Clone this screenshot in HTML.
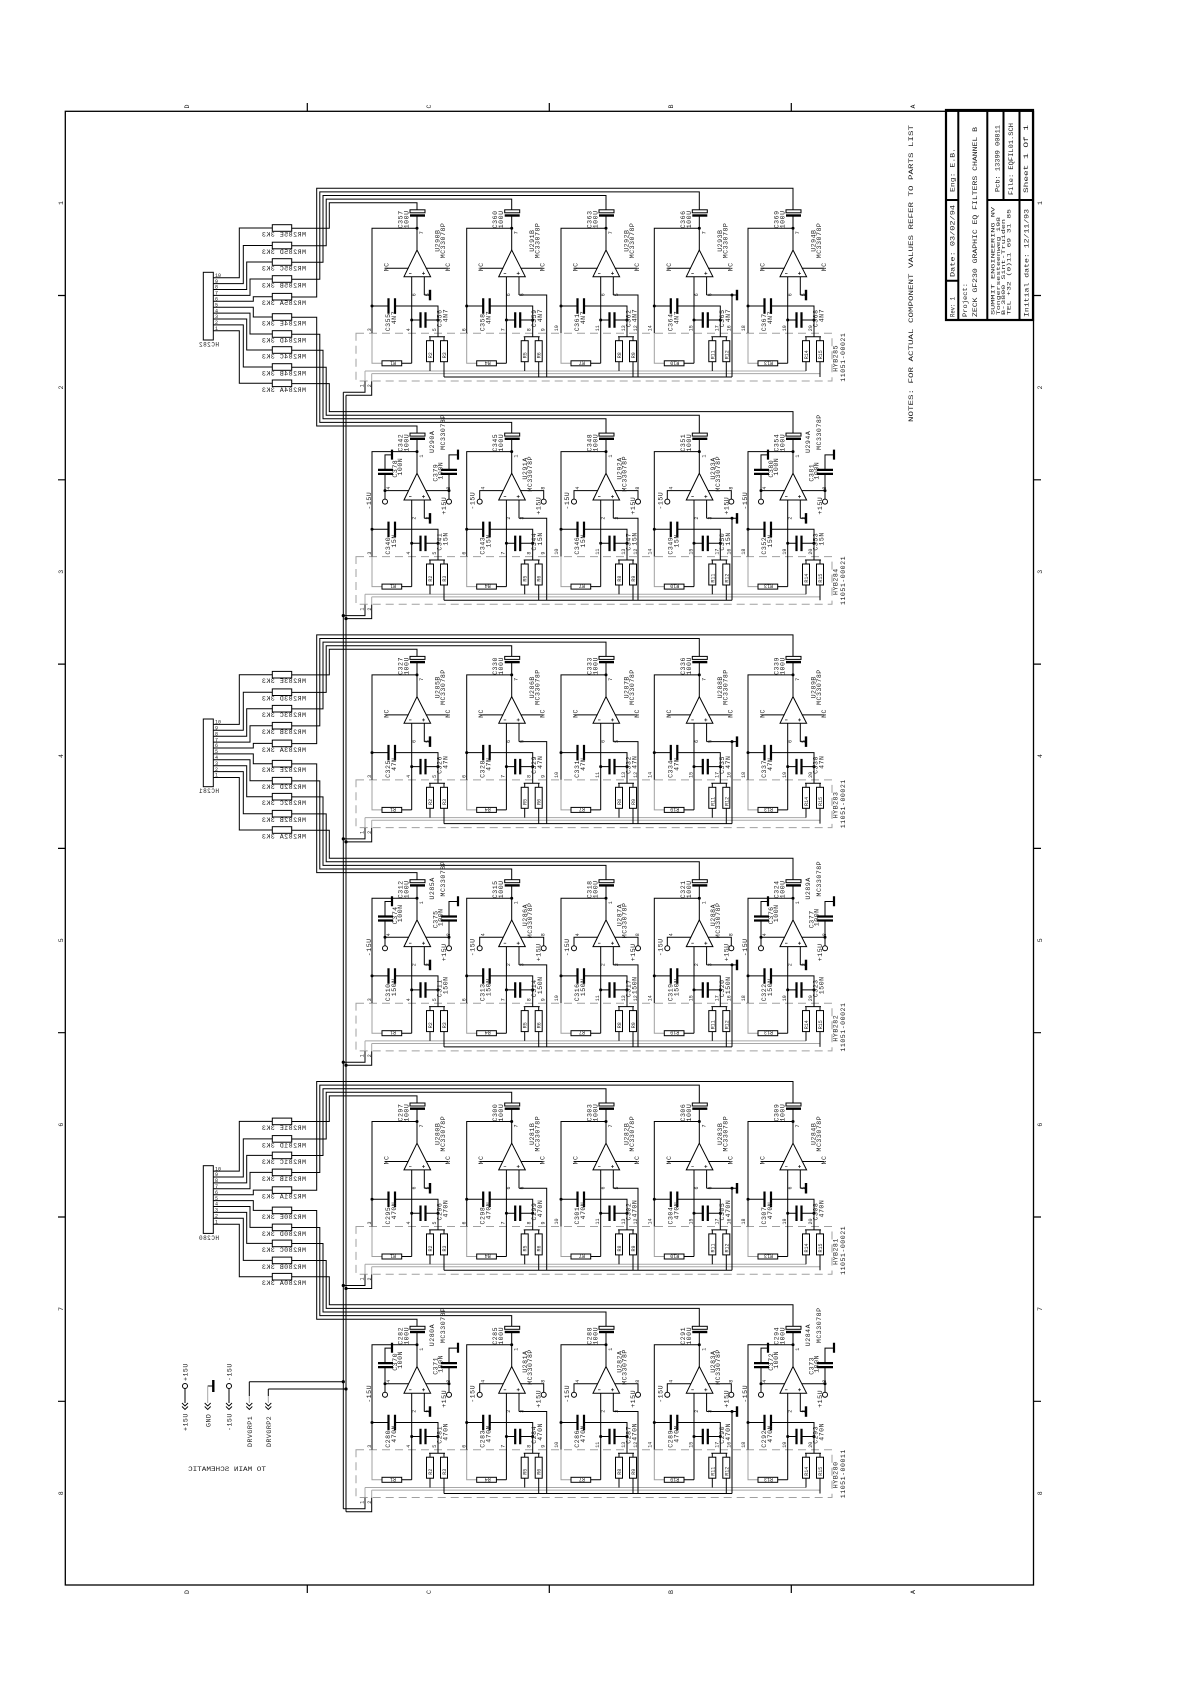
<!DOCTYPE html>
<html><head><meta charset="utf-8"><style>
html,body{margin:0;padding:0;background:#fff}
svg{display:block}
text{font-family:"Liberation Mono","DejaVu Sans Mono",monospace;fill:#1c1c1c;stroke:none;font-size:6.6px;letter-spacing:0.5px}
.s{font-size:5px;letter-spacing:0}
.s text{font-size:5px;letter-spacing:0}
.tb text{letter-spacing:0}
.d{fill:#000;stroke:none}
</style></head><body>
<svg width="1192" height="1685" viewBox="0 0 1192 1685" xmlns="http://www.w3.org/2000/svg">
<rect width="1192" height="1685" fill="#fff"/>
<defs>
<g id="st">
<path d="M0,-12.5V0H-45V105M0,0V21.7M-5.3,48.4V135M7.3,48.4V66.7M-45,77.7H-28.5M-22,77.7H21V108.4M-5.3,91.7H3.5M8.5,91.7H21M12,108.4H28M13,108.4V112.4M27,108.4V112.4M13,133.4V142.7M27,133.4V148.7M-15.3,135H-5.3"/>
<path d="M-45,105V135H-35" stroke="#a0a0a0"/>
<path d="M-13,48.4L0,21.7L13.6,48.4Z" fill="#fff"/>
<path d="M-28.5,70V85.5M-22,70V85.5M3.5,84V99.5M8.5,84V99.5" stroke-width="2.2"/>
<rect x="-7" y="-18.5" width="15" height="3" fill="#fff"/>
<path d="M-7,-12.8H8" stroke-width="2.4"/>
<rect x="9.5" y="112.4" width="7" height="21" fill="#fff"/>
<rect x="23.5" y="112.4" width="7" height="21" fill="#fff"/>
<rect x="-35" y="132.5" width="19.7" height="5" fill="#fff"/>
<circle class="d" cx="0" cy="0" r="1.5"/><circle class="d" cx="-45" cy="77.7" r="1.5"/><circle class="d" cx="-5.3" cy="91.7" r="1.5"/><circle class="d" cx="21" cy="91.7" r="1.5"/>
<path d="M-8,45H-5.5M5,45H8M6.5,43.5V46.5" stroke-width="0.6"/>
</g>
<g id="p0"><path d="M7.3,66.7H13"/><path d="M13,61.5V72" stroke-width="2.4"/></g>
<g id="p1"><path d="M7.3,66.7H35V148.7"/></g>
<g id="p2"><path d="M7.3,66.7H32V148.7"/></g>
<g id="p3"><path d="M7.3,66.7H37.7M32.7,66.7V148.7"/><path d="M37.7,61.5V72" stroke-width="2.4"/><circle class="d" cx="32.7" cy="66.7" r="1.5"/></g>
<g id="nc"><path d="M-8.4,40H-32M8.8,40H31"/></g>
<g id="pw"><path d="M-8.4,39H-32V47.5M8.8,39H32V47.5"/><circle cx="-32" cy="50" r="2.5"/><circle cx="32" cy="50" r="2.5"/></g>
<g id="dc">
<path d="M-32,39V22.3M-32,18.3V3.3H-25M32,39V22.3M32,18.3V3.3H41"/>
<path d="M-39,18.3H-24M-39,22.3H-24M24,18.3H40M24,22.3H40M-25,-2V8M41,-2V8" stroke-width="2.2"/>
<circle class="d" cx="-32" cy="39" r="1.5"/><circle class="d" cx="32" cy="39" r="1.5"/>
</g>
<g id="row">
<rect x="356" y="105" width="476" height="47.7" stroke="#a0a0a0" stroke-dasharray="8 5"/>
<path d="M365,142.7H806M371.7,145.3H820M365,142.7V153M371.7,145.3V153" stroke="#a8a8a8"/>
<path d="M444,148.7H732M365,153V164H343.3M371.7,153V167H346"/>
</g>
<g id="arr">
<rect x="203.3" y="44.3" width="10" height="67.7" fill="#fff"/>
<path d="M213.3,49.7H239.3V0H272.3M213.3,55.6H243.3V17.5H272.3M213.3,61.5H246.7V34H272.3M213.3,67.4H250V51H272.3M213.3,73.3H253.3V68.7H272.3M213.3,79.2H253.3V89H272.3M213.3,85.1H250V106H272.3M213.3,91H246.7V122H272.3M213.3,96.9H243.3V139H272.3M213.3,102.8H239.3V155.3H272.3"/>
<rect x="272.3" y="-3.3" width="19.4" height="6.6" fill="#fff"/>
<rect x="272.3" y="14.2" width="19.4" height="6.6" fill="#fff"/>
<rect x="272.3" y="30.7" width="19.4" height="6.6" fill="#fff"/>
<rect x="272.3" y="47.7" width="19.4" height="6.6" fill="#fff"/>
<rect x="272.3" y="65.4" width="19.4" height="6.6" fill="#fff"/>
<rect x="272.3" y="85.7" width="19.4" height="6.6" fill="#fff"/>
<rect x="272.3" y="102.7" width="19.4" height="6.6" fill="#fff"/>
<rect x="272.3" y="118.7" width="19.4" height="6.6" fill="#fff"/>
<rect x="272.3" y="135.7" width="19.4" height="6.6" fill="#fff"/>
<rect x="272.3" y="152" width="19.4" height="6.6" fill="#fff"/>
</g>
</defs>

<g stroke="#000" fill="none" stroke-width="1">
<!-- border -->
<rect x="65.3" y="111.3" width="968.2" height="1473.7" stroke-width="1.3"/>
<path d="M307.3,111V103M549.3,111V103M791.3,111V103M307.3,1585V1593M549.3,1585V1593M791.3,1585V1593M65,295.5H58M65,479.8H58M65,664.1H58M65,848.4H58M65,1032.7H58M65,1217H58M65,1401.3H58M1034,295.5H1041M1034,479.8H1041M1034,664.1H1041M1034,848.4H1041M1034,1032.7H1041M1034,1217H1041M1034,1401.3H1041" stroke-width="1.2"/>
<!-- title block -->
<rect x="946" y="110" width="87" height="210" stroke-width="2.2"/>
<path d="M958.3,110V320M987.3,110V320M1019.5,110V320M1003.5,110V200M946,200H958.3M987.3,200H1033M946,280.7H958.3" stroke-width="2"/>

<!-- resistor arrays -->
<g transform="translate(0,228)"><use href="#arr"/>
<g transform="scale(-1,1)"><text x="-306" y="8.5">MR285E 3K3</text><text x="-306" y="26">MR285D 3K3</text><text x="-306" y="42.5">MR285C 3K3</text><text x="-306" y="59.5">MR285B 3K3</text><text x="-306" y="77.2">MR285A 3K3</text><text x="-306" y="97.5">MR284E 3K3</text><text x="-306" y="114.5">MR284D 3K3</text><text x="-306" y="130.5">MR284C 3K3</text><text x="-306" y="147.5">MR284B 3K3</text><text x="-306" y="163.8">MR284A 3K3</text><text x="-219" y="118.5" style="font-size:6px">HC282</text></g>
<g class="s"><text x="215" y="48.9">10</text><text x="215" y="54.8">9</text><text x="215" y="60.7">8</text><text x="215" y="66.6">7</text><text x="215" y="72.5">6</text><text x="215" y="78.4">5</text><text x="215" y="84.3">4</text><text x="215" y="90.2">3</text><text x="215" y="96.1">2</text><text x="215" y="102">1</text></g>
</g>
<g transform="translate(0,674.7)"><use href="#arr"/>
<g transform="scale(-1,1)"><text x="-306" y="8.5">MR283E 3K3</text><text x="-306" y="26">MR283D 3K3</text><text x="-306" y="42.5">MR283C 3K3</text><text x="-306" y="59.5">MR283B 3K3</text><text x="-306" y="77.2">MR283A 3K3</text><text x="-306" y="97.5">MR282E 3K3</text><text x="-306" y="114.5">MR282D 3K3</text><text x="-306" y="130.5">MR282C 3K3</text><text x="-306" y="147.5">MR282B 3K3</text><text x="-306" y="163.8">MR282A 3K3</text><text x="-219" y="118.5" style="font-size:6px">HC281</text></g>
<g class="s"><text x="215" y="48.9">10</text><text x="215" y="54.8">9</text><text x="215" y="60.7">8</text><text x="215" y="66.6">7</text><text x="215" y="72.5">6</text><text x="215" y="78.4">5</text><text x="215" y="84.3">4</text><text x="215" y="90.2">3</text><text x="215" y="96.1">2</text><text x="215" y="102">1</text></g>
</g>
<g transform="translate(0,1121.4)"><use href="#arr"/>
<g transform="scale(-1,1)"><text x="-306" y="8.5">MR281E 3K3</text><text x="-306" y="26">MR281D 3K3</text><text x="-306" y="42.5">MR281C 3K3</text><text x="-306" y="59.5">MR281B 3K3</text><text x="-306" y="77.2">MR281A 3K3</text><text x="-306" y="97.5">MR280E 3K3</text><text x="-306" y="114.5">MR280D 3K3</text><text x="-306" y="130.5">MR280C 3K3</text><text x="-306" y="147.5">MR280B 3K3</text><text x="-306" y="163.8">MR280A 3K3</text><text x="-219" y="118.5" style="font-size:6px">HC280</text></g>
<g class="s"><text x="215" y="48.9">10</text><text x="215" y="54.8">9</text><text x="215" y="60.7">8</text><text x="215" y="66.6">7</text><text x="215" y="72.5">6</text><text x="215" y="78.4">5</text><text x="215" y="84.3">4</text><text x="215" y="90.2">3</text><text x="215" y="96.1">2</text><text x="215" y="102">1</text></g>
</g>

<!-- DRVGRP vertical lines -->
<path d="M343.3,392.3V1508.8M346,395.3V1511.8"/>
<circle class="d" cx="343.3" cy="615.6" r="1.6"/><circle class="d" cx="346" cy="618.6" r="1.6"/>
<circle class="d" cx="343.3" cy="838.9" r="1.6"/><circle class="d" cx="346" cy="841.9" r="1.6"/>
<circle class="d" cx="343.3" cy="1062.2" r="1.6"/><circle class="d" cx="346" cy="1065.2" r="1.6"/>
<circle class="d" cx="343.3" cy="1285.5" r="1.6"/><circle class="d" cx="346" cy="1288.5" r="1.6"/>
<circle class="d" cx="343.3" cy="1381.7" r="1.6"/><circle class="d" cx="346" cy="1389" r="1.6"/>

<!-- ROW 0 -->
<g transform="translate(0,228.3)">
<use href="#row"/>
<path d="M291.7,0H329.3V-25.6H417V-18.5M291.7,17.5H326.2V-29.2H511.7V-18.5M291.7,34H323V-32.8H606V-18.5M291.7,51H319.8V-36.4H699.3V-18.5M291.7,68.7H316.7V-40H793V-18.5"/>
<g transform="translate(417,0)"><use href="#st"/><use href="#p0"/><use href="#nc"/><g transform="rotate(-90)"><text x="0" y="-14.5">C357</text><text x="0" y="-8.5">100U</text><text x="-23.5" y="22.5">U290B</text><text x="-30" y="28">MC33078P</text><text x="-43" y="-28.5">NC</text><text x="-43" y="33">NC</text><text x="-103" y="-27">C355</text><text x="-96" y="-21">4N7</text><text x="-99" y="24.5">C356</text><text x="-94" y="30.5">4N7</text><g class="s"><text x="-130" y="15">R2</text><text x="-130" y="29">R3</text><text x="-6" y="6">7</text><text x="-68" y="-1.5">6</text><text x="-68" y="12">5</text><text x="-103" y="-46">3</text><text x="-103" y="-7">4</text><text x="-103" y="19">5</text></g></g><text class="s" x="-29" y="137" transform="rotate(180 -25 135)">R1</text></g>
<g transform="translate(511.7,0)"><use href="#st"/><use href="#p1"/><use href="#nc"/><g transform="rotate(-90)"><text x="0" y="-14.5">C360</text><text x="0" y="-8.5">100U</text><text x="-23.5" y="22.5">U291B</text><text x="-30" y="28">MC33078P</text><text x="-43" y="-28.5">NC</text><text x="-43" y="33">NC</text><text x="-103" y="-27">C358</text><text x="-96" y="-21">4N7</text><text x="-99" y="24.5">C359</text><text x="-94" y="30.5">4N7</text><g class="s"><text x="-130" y="15">R5</text><text x="-130" y="29">R6</text><text x="-6" y="6">7</text><text x="-68" y="-1.5">6</text><text x="-68" y="12">5</text><text x="-103" y="-46">6</text><text x="-103" y="-7">7</text><text x="-103" y="19">8</text><text x="-103" y="33">9</text></g></g><text class="s" x="-29" y="137" transform="rotate(180 -25 135)">R4</text></g>
<g transform="translate(606,0)"><use href="#st"/><use href="#p2"/><use href="#nc"/><g transform="rotate(-90)"><text x="0" y="-14.5">C363</text><text x="0" y="-8.5">100U</text><text x="-23.5" y="22.5">U292B</text><text x="-30" y="28">MC33078P</text><text x="-43" y="-28.5">NC</text><text x="-43" y="33">NC</text><text x="-103" y="-27">C361</text><text x="-96" y="-21">4N7</text><text x="-99" y="24.5">C362</text><text x="-94" y="30.5">4N7</text><g class="s"><text x="-130" y="15">R8</text><text x="-130" y="29">R9</text><text x="-6" y="6">7</text><text x="-68" y="-1.5">6</text><text x="-68" y="12">5</text><text x="-103" y="-48">10</text><text x="-103" y="-7">11</text><text x="-103" y="19">13</text><text x="-103" y="31">12</text></g></g><text class="s" x="-29" y="137" transform="rotate(180 -25 135)">R7</text></g>
<g transform="translate(699.3,0)"><use href="#st"/><use href="#p3"/><use href="#nc"/><g transform="rotate(-90)"><text x="0" y="-14.5">C366</text><text x="0" y="-8.5">100U</text><text x="-23.5" y="22.5">U293B</text><text x="-30" y="28">MC33078P</text><text x="-43" y="-28.5">NC</text><text x="-43" y="33">NC</text><text x="-103" y="-27">C364</text><text x="-96" y="-21">4N7</text><text x="-99" y="24.5">C365</text><text x="-94" y="30.5">4N7</text><g class="s"><text x="-131" y="15">R11</text><text x="-131" y="29">R12</text><text x="-6" y="6">7</text><text x="-68" y="-1.5">6</text><text x="-68" y="12">5</text><text x="-103" y="-48">14</text><text x="-103" y="-7">15</text><text x="-103" y="19">17</text><text x="-103" y="31">16</text></g></g><text class="s" x="-30" y="137" transform="rotate(180 -25 135)">R10</text></g>
<g transform="translate(793,0)"><use href="#st"/><use href="#p0"/><use href="#nc"/><g transform="rotate(-90)"><text x="0" y="-14.5">C369</text><text x="0" y="-8.5">100U</text><text x="-23.5" y="22.5">U294B</text><text x="-30" y="28">MC33078P</text><text x="-43" y="-28.5">NC</text><text x="-43" y="33">NC</text><text x="-103" y="-27">C367</text><text x="-96" y="-21">4N7</text><text x="-99" y="24.5">C368</text><text x="-94" y="30.5">4N7</text><g class="s"><text x="-131" y="15">R14</text><text x="-131" y="29">R15</text><text x="-6" y="6">7</text><text x="-68" y="-1.5">6</text><text x="-68" y="12">5</text><text x="-103" y="-48">18</text><text x="-103" y="-7">19</text><text x="-103" y="19">20</text></g></g><text class="s" x="-30" y="137" transform="rotate(180 -25 135)">R13</text></g>
<g transform="rotate(-90)"><text x="-143.4" y="837.5">HYB285</text><text x="-153.4" y="845">11051-00021</text><g class="s"><text x="-159" y="363.5">1</text><text x="-159" y="371">2</text></g></g>
</g>

<!-- ROW 1 -->
<g transform="translate(0,451.6)">
<use href="#row"/>
<path d="M291.7,-134.3H316.7V-25.6H417V-18.5M291.7,-117.3H319.8V-29.2H511.7V-18.5M291.7,-101.3H323V-32.8H606V-18.5M291.7,-84.3H326.2V-36.4H699.3V-18.5M291.7,-68H329.3V-40H793V-18.5"/>
<g transform="translate(417,0)"><use href="#st"/><use href="#p0"/><use href="#pw"/><use href="#dc"/><g transform="rotate(-90)"><text x="0" y="-14.5">C342</text><text x="0" y="-8.5">100U</text><text x="-1.4" y="17">U290A</text><text x="1.7" y="28">MC33078P</text><text x="-26" y="-20">C378</text><text x="-24" y="-15">100N</text><text x="-30" y="20.5">C379</text><text x="-28" y="25.5">100N</text><text x="-58" y="-46">-15U</text><text x="-63" y="29">+15U</text><text x="-103" y="-27">C340</text><text x="-96" y="-21">15N</text><text x="-99" y="24.5">C341</text><text x="-94" y="30.5">15N</text><g class="s"><text x="-130" y="15">R2</text><text x="-130" y="29">R3</text><text x="-6" y="6">1</text><text x="-68" y="-1.5">2</text><text x="-68" y="12">3</text><text x="-38" y="-27">4</text><text x="-38" y="33">8</text><text x="-103" y="-46">3</text><text x="-103" y="-7">4</text><text x="-103" y="19">5</text></g></g><text class="s" x="-29" y="137" transform="rotate(180 -25 135)">R1</text></g>
<g transform="translate(511.7,0)"><use href="#st"/><use href="#p1"/><use href="#pw"/><g transform="rotate(-90)"><text x="0" y="-14.5">C345</text><text x="0" y="-8.5">100U</text><text x="-28" y="15.5">U291A</text><text x="-40" y="20.5">MC33078P</text><text x="-58" y="-37">-15U</text><text x="-63" y="29">+15U</text><text x="-103" y="-27">C343</text><text x="-96" y="-21">15N</text><text x="-99" y="24.5">C344</text><text x="-94" y="30.5">15N</text><g class="s"><text x="-130" y="15">R5</text><text x="-130" y="29">R6</text><text x="-6" y="6">1</text><text x="-68" y="-1.5">2</text><text x="-68" y="12">3</text><text x="-38" y="-27">4</text><text x="-38" y="33">8</text><text x="-103" y="-46">6</text><text x="-103" y="-7">7</text><text x="-103" y="19">8</text><text x="-103" y="33">9</text></g></g><text class="s" x="-29" y="137" transform="rotate(180 -25 135)">R4</text></g>
<g transform="translate(606,0)"><use href="#st"/><use href="#p2"/><use href="#pw"/><g transform="rotate(-90)"><text x="0" y="-14.5">C348</text><text x="0" y="-8.5">100U</text><text x="-28" y="15.5">U292A</text><text x="-40" y="20.5">MC33078P</text><text x="-58" y="-37">-15U</text><text x="-63" y="29">+15U</text><text x="-103" y="-27">C346</text><text x="-96" y="-21">15N</text><text x="-99" y="24.5">C347</text><text x="-94" y="30.5">15N</text><g class="s"><text x="-130" y="15">R8</text><text x="-130" y="29">R9</text><text x="-6" y="6">1</text><text x="-68" y="-1.5">2</text><text x="-68" y="12">3</text><text x="-38" y="-27">4</text><text x="-38" y="33">8</text><text x="-103" y="-48">10</text><text x="-103" y="-7">11</text><text x="-103" y="19">13</text><text x="-103" y="31">12</text></g></g><text class="s" x="-29" y="137" transform="rotate(180 -25 135)">R7</text></g>
<g transform="translate(699.3,0)"><use href="#st"/><use href="#p3"/><use href="#pw"/><g transform="rotate(-90)"><text x="0" y="-14.5">C351</text><text x="0" y="-8.5">100U</text><text x="-28" y="15.5">U293A</text><text x="-40" y="20.5">MC33078P</text><text x="-58" y="-37">-15U</text><text x="-63" y="29">+15U</text><text x="-103" y="-27">C349</text><text x="-96" y="-21">15N</text><text x="-99" y="24.5">C350</text><text x="-94" y="30.5">15N</text><g class="s"><text x="-131" y="15">R11</text><text x="-131" y="29">R12</text><text x="-6" y="6">1</text><text x="-68" y="-1.5">2</text><text x="-68" y="12">3</text><text x="-38" y="-27">4</text><text x="-38" y="33">8</text><text x="-103" y="-48">14</text><text x="-103" y="-7">15</text><text x="-103" y="19">17</text><text x="-103" y="31">16</text></g></g><text class="s" x="-30" y="137" transform="rotate(180 -25 135)">R10</text></g>
<g transform="translate(793,0)"><use href="#st"/><use href="#p0"/><use href="#pw"/><use href="#dc"/><g transform="rotate(-90)"><text x="0" y="-14.5">C354</text><text x="0" y="-8.5">100U</text><text x="-1.4" y="17">U294A</text><text x="1.7" y="28">MC33078P</text><text x="-26" y="-20">C380</text><text x="-24" y="-15">100N</text><text x="-30" y="20.5">C381</text><text x="-28" y="25.5">100N</text><text x="-58" y="-46">-15U</text><text x="-63" y="29">+15U</text><text x="-103" y="-27">C352</text><text x="-96" y="-21">15N</text><text x="-99" y="24.5">C353</text><text x="-94" y="30.5">15N</text><g class="s"><text x="-131" y="15">R14</text><text x="-131" y="29">R15</text><text x="-6" y="6">1</text><text x="-68" y="-1.5">2</text><text x="-68" y="12">3</text><text x="-38" y="-27">4</text><text x="-38" y="33">8</text><text x="-103" y="-48">18</text><text x="-103" y="-7">19</text><text x="-103" y="19">20</text></g></g><text class="s" x="-30" y="137" transform="rotate(180 -25 135)">R13</text></g>
<g transform="rotate(-90)"><text x="-143.4" y="837.5">HYB284</text><text x="-153.4" y="845">11051-00021</text><g class="s"><text x="-159" y="363.5">1</text><text x="-159" y="371">2</text></g></g>
</g>

<!-- ROW 2 -->
<g transform="translate(0,674.9)">
<use href="#row"/>
<path d="M291.7,0H329.3V-25.6H417V-18.5M291.7,17.5H326.2V-29.2H511.7V-18.5M291.7,34H323V-32.8H606V-18.5M291.7,51H319.8V-36.4H699.3V-18.5M291.7,68.7H316.7V-40H793V-18.5"/>
<g transform="translate(417,0)"><use href="#st"/><use href="#p0"/><use href="#nc"/><g transform="rotate(-90)"><text x="0" y="-14.5">C327</text><text x="0" y="-8.5">100U</text><text x="-23.5" y="22.5">U285B</text><text x="-30" y="28">MC33078P</text><text x="-43" y="-28.5">NC</text><text x="-43" y="33">NC</text><text x="-103" y="-27">C325</text><text x="-96" y="-21">47N</text><text x="-99" y="24.5">C326</text><text x="-94" y="30.5">47N</text><g class="s"><text x="-130" y="15">R2</text><text x="-130" y="29">R3</text><text x="-6" y="6">7</text><text x="-68" y="-1.5">6</text><text x="-68" y="12">5</text><text x="-103" y="-46">3</text><text x="-103" y="-7">4</text><text x="-103" y="19">5</text></g></g><text class="s" x="-29" y="137" transform="rotate(180 -25 135)">R1</text></g>
<g transform="translate(511.7,0)"><use href="#st"/><use href="#p1"/><use href="#nc"/><g transform="rotate(-90)"><text x="0" y="-14.5">C330</text><text x="0" y="-8.5">100U</text><text x="-23.5" y="22.5">U286B</text><text x="-30" y="28">MC33078P</text><text x="-43" y="-28.5">NC</text><text x="-43" y="33">NC</text><text x="-103" y="-27">C328</text><text x="-96" y="-21">47N</text><text x="-99" y="24.5">C329</text><text x="-94" y="30.5">47N</text><g class="s"><text x="-130" y="15">R5</text><text x="-130" y="29">R6</text><text x="-6" y="6">7</text><text x="-68" y="-1.5">6</text><text x="-68" y="12">5</text><text x="-103" y="-46">6</text><text x="-103" y="-7">7</text><text x="-103" y="19">8</text><text x="-103" y="33">9</text></g></g><text class="s" x="-29" y="137" transform="rotate(180 -25 135)">R4</text></g>
<g transform="translate(606,0)"><use href="#st"/><use href="#p2"/><use href="#nc"/><g transform="rotate(-90)"><text x="0" y="-14.5">C333</text><text x="0" y="-8.5">100U</text><text x="-23.5" y="22.5">U287B</text><text x="-30" y="28">MC33078P</text><text x="-43" y="-28.5">NC</text><text x="-43" y="33">NC</text><text x="-103" y="-27">C331</text><text x="-96" y="-21">47N</text><text x="-99" y="24.5">C332</text><text x="-94" y="30.5">47N</text><g class="s"><text x="-130" y="15">R8</text><text x="-130" y="29">R9</text><text x="-6" y="6">7</text><text x="-68" y="-1.5">6</text><text x="-68" y="12">5</text><text x="-103" y="-48">10</text><text x="-103" y="-7">11</text><text x="-103" y="19">13</text><text x="-103" y="31">12</text></g></g><text class="s" x="-29" y="137" transform="rotate(180 -25 135)">R7</text></g>
<g transform="translate(699.3,0)"><use href="#st"/><use href="#p3"/><use href="#nc"/><g transform="rotate(-90)"><text x="0" y="-14.5">C336</text><text x="0" y="-8.5">100U</text><text x="-23.5" y="22.5">U288B</text><text x="-30" y="28">MC33078P</text><text x="-43" y="-28.5">NC</text><text x="-43" y="33">NC</text><text x="-103" y="-27">C334</text><text x="-96" y="-21">47N</text><text x="-99" y="24.5">C335</text><text x="-94" y="30.5">47N</text><g class="s"><text x="-131" y="15">R11</text><text x="-131" y="29">R12</text><text x="-6" y="6">7</text><text x="-68" y="-1.5">6</text><text x="-68" y="12">5</text><text x="-103" y="-48">14</text><text x="-103" y="-7">15</text><text x="-103" y="19">17</text><text x="-103" y="31">16</text></g></g><text class="s" x="-30" y="137" transform="rotate(180 -25 135)">R10</text></g>
<g transform="translate(793,0)"><use href="#st"/><use href="#p0"/><use href="#nc"/><g transform="rotate(-90)"><text x="0" y="-14.5">C339</text><text x="0" y="-8.5">100U</text><text x="-23.5" y="22.5">U289B</text><text x="-30" y="28">MC33078P</text><text x="-43" y="-28.5">NC</text><text x="-43" y="33">NC</text><text x="-103" y="-27">C337</text><text x="-96" y="-21">47N</text><text x="-99" y="24.5">C338</text><text x="-94" y="30.5">47N</text><g class="s"><text x="-131" y="15">R14</text><text x="-131" y="29">R15</text><text x="-6" y="6">7</text><text x="-68" y="-1.5">6</text><text x="-68" y="12">5</text><text x="-103" y="-48">18</text><text x="-103" y="-7">19</text><text x="-103" y="19">20</text></g></g><text class="s" x="-30" y="137" transform="rotate(180 -25 135)">R13</text></g>
<g transform="rotate(-90)"><text x="-143.4" y="837.5">HYB283</text><text x="-153.4" y="845">11051-00021</text><g class="s"><text x="-159" y="363.5">1</text><text x="-159" y="371">2</text></g></g>
</g>

<!-- ROW 3 -->
<g transform="translate(0,898.2)">
<use href="#row"/>
<path d="M291.7,-134.3H316.7V-25.6H417V-18.5M291.7,-117.3H319.8V-29.2H511.7V-18.5M291.7,-101.3H323V-32.8H606V-18.5M291.7,-84.3H326.2V-36.4H699.3V-18.5M291.7,-68H329.3V-40H793V-18.5"/>
<g transform="translate(417,0)"><use href="#st"/><use href="#p0"/><use href="#pw"/><use href="#dc"/><g transform="rotate(-90)"><text x="0" y="-14.5">C312</text><text x="0" y="-8.5">100U</text><text x="-1.4" y="17">U285A</text><text x="1.7" y="28">MC33078P</text><text x="-26" y="-20">C374</text><text x="-24" y="-15">100N</text><text x="-30" y="20.5">C375</text><text x="-28" y="25.5">100N</text><text x="-58" y="-46">-15U</text><text x="-63" y="29">+15U</text><text x="-103" y="-27">C310</text><text x="-98" y="-21">150N</text><text x="-99" y="24.5">C311</text><text x="-96" y="30.5">150N</text><g class="s"><text x="-130" y="15">R2</text><text x="-130" y="29">R3</text><text x="-6" y="6">1</text><text x="-68" y="-1.5">2</text><text x="-68" y="12">3</text><text x="-38" y="-27">4</text><text x="-38" y="33">8</text><text x="-103" y="-46">3</text><text x="-103" y="-7">4</text><text x="-103" y="19">5</text></g></g><text class="s" x="-29" y="137" transform="rotate(180 -25 135)">R1</text></g>
<g transform="translate(511.7,0)"><use href="#st"/><use href="#p1"/><use href="#pw"/><g transform="rotate(-90)"><text x="0" y="-14.5">C315</text><text x="0" y="-8.5">100U</text><text x="-28" y="15.5">U286A</text><text x="-40" y="20.5">MC33078P</text><text x="-58" y="-37">-15U</text><text x="-63" y="29">+15U</text><text x="-103" y="-27">C313</text><text x="-98" y="-21">150N</text><text x="-99" y="24.5">C314</text><text x="-96" y="30.5">150N</text><g class="s"><text x="-130" y="15">R5</text><text x="-130" y="29">R6</text><text x="-6" y="6">1</text><text x="-68" y="-1.5">2</text><text x="-68" y="12">3</text><text x="-38" y="-27">4</text><text x="-38" y="33">8</text><text x="-103" y="-46">6</text><text x="-103" y="-7">7</text><text x="-103" y="19">8</text><text x="-103" y="33">9</text></g></g><text class="s" x="-29" y="137" transform="rotate(180 -25 135)">R4</text></g>
<g transform="translate(606,0)"><use href="#st"/><use href="#p2"/><use href="#pw"/><g transform="rotate(-90)"><text x="0" y="-14.5">C318</text><text x="0" y="-8.5">100U</text><text x="-28" y="15.5">U287A</text><text x="-40" y="20.5">MC33078P</text><text x="-58" y="-37">-15U</text><text x="-63" y="29">+15U</text><text x="-103" y="-27">C316</text><text x="-98" y="-21">150N</text><text x="-99" y="24.5">C317</text><text x="-96" y="30.5">150N</text><g class="s"><text x="-130" y="15">R8</text><text x="-130" y="29">R9</text><text x="-6" y="6">1</text><text x="-68" y="-1.5">2</text><text x="-68" y="12">3</text><text x="-38" y="-27">4</text><text x="-38" y="33">8</text><text x="-103" y="-48">10</text><text x="-103" y="-7">11</text><text x="-103" y="19">13</text><text x="-103" y="31">12</text></g></g><text class="s" x="-29" y="137" transform="rotate(180 -25 135)">R7</text></g>
<g transform="translate(699.3,0)"><use href="#st"/><use href="#p3"/><use href="#pw"/><g transform="rotate(-90)"><text x="0" y="-14.5">C321</text><text x="0" y="-8.5">100U</text><text x="-28" y="15.5">U288A</text><text x="-40" y="20.5">MC33078P</text><text x="-58" y="-37">-15U</text><text x="-63" y="29">+15U</text><text x="-103" y="-27">C319</text><text x="-98" y="-21">150N</text><text x="-99" y="24.5">C320</text><text x="-96" y="30.5">150N</text><g class="s"><text x="-131" y="15">R11</text><text x="-131" y="29">R12</text><text x="-6" y="6">1</text><text x="-68" y="-1.5">2</text><text x="-68" y="12">3</text><text x="-38" y="-27">4</text><text x="-38" y="33">8</text><text x="-103" y="-48">14</text><text x="-103" y="-7">15</text><text x="-103" y="19">17</text><text x="-103" y="31">16</text></g></g><text class="s" x="-30" y="137" transform="rotate(180 -25 135)">R10</text></g>
<g transform="translate(793,0)"><use href="#st"/><use href="#p0"/><use href="#pw"/><use href="#dc"/><g transform="rotate(-90)"><text x="0" y="-14.5">C324</text><text x="0" y="-8.5">100U</text><text x="-1.4" y="17">U289A</text><text x="1.7" y="28">MC33078P</text><text x="-26" y="-20">C376</text><text x="-24" y="-15">100N</text><text x="-30" y="20.5">C377</text><text x="-28" y="25.5">100N</text><text x="-58" y="-46">-15U</text><text x="-63" y="29">+15U</text><text x="-103" y="-27">C322</text><text x="-98" y="-21">150N</text><text x="-99" y="24.5">C323</text><text x="-96" y="30.5">150N</text><g class="s"><text x="-131" y="15">R14</text><text x="-131" y="29">R15</text><text x="-6" y="6">1</text><text x="-68" y="-1.5">2</text><text x="-68" y="12">3</text><text x="-38" y="-27">4</text><text x="-38" y="33">8</text><text x="-103" y="-48">18</text><text x="-103" y="-7">19</text><text x="-103" y="19">20</text></g></g><text class="s" x="-30" y="137" transform="rotate(180 -25 135)">R13</text></g>
<g transform="rotate(-90)"><text x="-143.4" y="837.5">HYB282</text><text x="-153.4" y="845">11051-00021</text><g class="s"><text x="-159" y="363.5">1</text><text x="-159" y="371">2</text></g></g>
</g>

<!-- ROW 4 -->
<g transform="translate(0,1121.5)">
<use href="#row"/>
<path d="M291.7,0H329.3V-25.6H417V-18.5M291.7,17.5H326.2V-29.2H511.7V-18.5M291.7,34H323V-32.8H606V-18.5M291.7,51H319.8V-36.4H699.3V-18.5M291.7,68.7H316.7V-40H793V-18.5"/>
<g transform="translate(417,0)"><use href="#st"/><use href="#p0"/><use href="#nc"/><g transform="rotate(-90)"><text x="0" y="-14.5">C297</text><text x="0" y="-8.5">100U</text><text x="-23.5" y="22.5">U280B</text><text x="-30" y="28">MC33078P</text><text x="-43" y="-28.5">NC</text><text x="-43" y="33">NC</text><text x="-103" y="-27">C295</text><text x="-98" y="-21">470N</text><text x="-99" y="24.5">C296</text><text x="-96" y="30.5">470N</text><g class="s"><text x="-130" y="15">R2</text><text x="-130" y="29">R3</text><text x="-6" y="6">7</text><text x="-68" y="-1.5">6</text><text x="-68" y="12">5</text><text x="-103" y="-46">3</text><text x="-103" y="-7">4</text><text x="-103" y="19">5</text></g></g><text class="s" x="-29" y="137" transform="rotate(180 -25 135)">R1</text></g>
<g transform="translate(511.7,0)"><use href="#st"/><use href="#p1"/><use href="#nc"/><g transform="rotate(-90)"><text x="0" y="-14.5">C300</text><text x="0" y="-8.5">100U</text><text x="-23.5" y="22.5">U281B</text><text x="-30" y="28">MC33078P</text><text x="-43" y="-28.5">NC</text><text x="-43" y="33">NC</text><text x="-103" y="-27">C298</text><text x="-98" y="-21">470N</text><text x="-99" y="24.5">C299</text><text x="-96" y="30.5">470N</text><g class="s"><text x="-130" y="15">R5</text><text x="-130" y="29">R6</text><text x="-6" y="6">7</text><text x="-68" y="-1.5">6</text><text x="-68" y="12">5</text><text x="-103" y="-46">6</text><text x="-103" y="-7">7</text><text x="-103" y="19">8</text><text x="-103" y="33">9</text></g></g><text class="s" x="-29" y="137" transform="rotate(180 -25 135)">R4</text></g>
<g transform="translate(606,0)"><use href="#st"/><use href="#p2"/><use href="#nc"/><g transform="rotate(-90)"><text x="0" y="-14.5">C303</text><text x="0" y="-8.5">100U</text><text x="-23.5" y="22.5">U282B</text><text x="-30" y="28">MC33078P</text><text x="-43" y="-28.5">NC</text><text x="-43" y="33">NC</text><text x="-103" y="-27">C301</text><text x="-98" y="-21">470N</text><text x="-99" y="24.5">C302</text><text x="-96" y="30.5">470N</text><g class="s"><text x="-130" y="15">R8</text><text x="-130" y="29">R9</text><text x="-6" y="6">7</text><text x="-68" y="-1.5">6</text><text x="-68" y="12">5</text><text x="-103" y="-48">10</text><text x="-103" y="-7">11</text><text x="-103" y="19">13</text><text x="-103" y="31">12</text></g></g><text class="s" x="-29" y="137" transform="rotate(180 -25 135)">R7</text></g>
<g transform="translate(699.3,0)"><use href="#st"/><use href="#p3"/><use href="#nc"/><g transform="rotate(-90)"><text x="0" y="-14.5">C306</text><text x="0" y="-8.5">100U</text><text x="-23.5" y="22.5">U283B</text><text x="-30" y="28">MC33078P</text><text x="-43" y="-28.5">NC</text><text x="-43" y="33">NC</text><text x="-103" y="-27">C304</text><text x="-98" y="-21">470N</text><text x="-99" y="24.5">C305</text><text x="-96" y="30.5">470N</text><g class="s"><text x="-131" y="15">R11</text><text x="-131" y="29">R12</text><text x="-6" y="6">7</text><text x="-68" y="-1.5">6</text><text x="-68" y="12">5</text><text x="-103" y="-48">14</text><text x="-103" y="-7">15</text><text x="-103" y="19">17</text><text x="-103" y="31">16</text></g></g><text class="s" x="-30" y="137" transform="rotate(180 -25 135)">R10</text></g>
<g transform="translate(793,0)"><use href="#st"/><use href="#p0"/><use href="#nc"/><g transform="rotate(-90)"><text x="0" y="-14.5">C309</text><text x="0" y="-8.5">100U</text><text x="-23.5" y="22.5">U284B</text><text x="-30" y="28">MC33078P</text><text x="-43" y="-28.5">NC</text><text x="-43" y="33">NC</text><text x="-103" y="-27">C307</text><text x="-98" y="-21">470N</text><text x="-99" y="24.5">C308</text><text x="-96" y="30.5">470N</text><g class="s"><text x="-131" y="15">R14</text><text x="-131" y="29">R15</text><text x="-6" y="6">7</text><text x="-68" y="-1.5">6</text><text x="-68" y="12">5</text><text x="-103" y="-48">18</text><text x="-103" y="-7">19</text><text x="-103" y="19">20</text></g></g><text class="s" x="-30" y="137" transform="rotate(180 -25 135)">R13</text></g>
<g transform="rotate(-90)"><text x="-143.4" y="837.5">HYB281</text><text x="-153.4" y="845">11051-00021</text><g class="s"><text x="-159" y="363.5">1</text><text x="-159" y="371">2</text></g></g>
</g>

<!-- ROW 5 -->
<g transform="translate(0,1344.8)">
<use href="#row"/>
<path d="M291.7,-134.3H316.7V-25.6H417V-18.5M291.7,-117.3H319.8V-29.2H511.7V-18.5M291.7,-101.3H323V-32.8H606V-18.5M291.7,-84.3H326.2V-36.4H699.3V-18.5M291.7,-68H329.3V-40H793V-18.5"/>
<g transform="translate(417,0)"><use href="#st"/><use href="#p0"/><use href="#pw"/><use href="#dc"/><g transform="rotate(-90)"><text x="0" y="-14.5">C282</text><text x="0" y="-8.5">100U</text><text x="-1.4" y="17">U280A</text><text x="1.7" y="28">MC33078P</text><text x="-26" y="-20">C370</text><text x="-24" y="-15">100N</text><text x="-30" y="20.5">C371</text><text x="-28" y="25.5">100N</text><text x="-58" y="-46">-15U</text><text x="-63" y="29">+15U</text><text x="-103" y="-27">C280</text><text x="-98" y="-21">470N</text><text x="-99" y="24.5">C281</text><text x="-96" y="30.5">470N</text><g class="s"><text x="-130" y="15">R2</text><text x="-130" y="29">R3</text><text x="-6" y="6">1</text><text x="-68" y="-1.5">2</text><text x="-68" y="12">3</text><text x="-38" y="-27">4</text><text x="-38" y="33">8</text><text x="-103" y="-46">3</text><text x="-103" y="-7">4</text><text x="-103" y="19">5</text></g></g><text class="s" x="-29" y="137" transform="rotate(180 -25 135)">R1</text></g>
<g transform="translate(511.7,0)"><use href="#st"/><use href="#p1"/><use href="#pw"/><g transform="rotate(-90)"><text x="0" y="-14.5">C285</text><text x="0" y="-8.5">100U</text><text x="-28" y="15.5">U281A</text><text x="-40" y="20.5">MC33078P</text><text x="-58" y="-37">-15U</text><text x="-63" y="29">+15U</text><text x="-103" y="-27">C283</text><text x="-98" y="-21">470N</text><text x="-99" y="24.5">C284</text><text x="-96" y="30.5">470N</text><g class="s"><text x="-130" y="15">R5</text><text x="-130" y="29">R6</text><text x="-6" y="6">1</text><text x="-68" y="-1.5">2</text><text x="-68" y="12">3</text><text x="-38" y="-27">4</text><text x="-38" y="33">8</text><text x="-103" y="-46">6</text><text x="-103" y="-7">7</text><text x="-103" y="19">8</text><text x="-103" y="33">9</text></g></g><text class="s" x="-29" y="137" transform="rotate(180 -25 135)">R4</text></g>
<g transform="translate(606,0)"><use href="#st"/><use href="#p2"/><use href="#pw"/><g transform="rotate(-90)"><text x="0" y="-14.5">C288</text><text x="0" y="-8.5">100U</text><text x="-28" y="15.5">U282A</text><text x="-40" y="20.5">MC33078P</text><text x="-58" y="-37">-15U</text><text x="-63" y="29">+15U</text><text x="-103" y="-27">C286</text><text x="-98" y="-21">470N</text><text x="-99" y="24.5">C287</text><text x="-96" y="30.5">470N</text><g class="s"><text x="-130" y="15">R8</text><text x="-130" y="29">R9</text><text x="-6" y="6">1</text><text x="-68" y="-1.5">2</text><text x="-68" y="12">3</text><text x="-38" y="-27">4</text><text x="-38" y="33">8</text><text x="-103" y="-48">10</text><text x="-103" y="-7">11</text><text x="-103" y="19">13</text><text x="-103" y="31">12</text></g></g><text class="s" x="-29" y="137" transform="rotate(180 -25 135)">R7</text></g>
<g transform="translate(699.3,0)"><use href="#st"/><use href="#p3"/><use href="#pw"/><g transform="rotate(-90)"><text x="0" y="-14.5">C291</text><text x="0" y="-8.5">100U</text><text x="-28" y="15.5">U283A</text><text x="-40" y="20.5">MC33078P</text><text x="-58" y="-37">-15U</text><text x="-63" y="29">+15U</text><text x="-103" y="-27">C289</text><text x="-98" y="-21">470N</text><text x="-99" y="24.5">C290</text><text x="-96" y="30.5">470N</text><g class="s"><text x="-131" y="15">R11</text><text x="-131" y="29">R12</text><text x="-6" y="6">1</text><text x="-68" y="-1.5">2</text><text x="-68" y="12">3</text><text x="-38" y="-27">4</text><text x="-38" y="33">8</text><text x="-103" y="-48">14</text><text x="-103" y="-7">15</text><text x="-103" y="19">17</text><text x="-103" y="31">16</text></g></g><text class="s" x="-30" y="137" transform="rotate(180 -25 135)">R10</text></g>
<g transform="translate(793,0)"><use href="#st"/><use href="#p0"/><use href="#pw"/><use href="#dc"/><g transform="rotate(-90)"><text x="0" y="-14.5">C294</text><text x="0" y="-8.5">100U</text><text x="-1.4" y="17">U284A</text><text x="1.7" y="28">MC33078P</text><text x="-26" y="-20">C372</text><text x="-24" y="-15">100N</text><text x="-30" y="20.5">C373</text><text x="-28" y="25.5">100N</text><text x="-58" y="-46">-15U</text><text x="-63" y="29">+15U</text><text x="-103" y="-27">C292</text><text x="-98" y="-21">470N</text><text x="-99" y="24.5">C293</text><text x="-96" y="30.5">470N</text><g class="s"><text x="-131" y="15">R14</text><text x="-131" y="29">R15</text><text x="-6" y="6">1</text><text x="-68" y="-1.5">2</text><text x="-68" y="12">3</text><text x="-38" y="-27">4</text><text x="-38" y="33">8</text><text x="-103" y="-48">18</text><text x="-103" y="-7">19</text><text x="-103" y="19">20</text></g></g><text class="s" x="-30" y="137" transform="rotate(180 -25 135)">R13</text></g>
<g transform="rotate(-90)"><text x="-143.4" y="837.5">HYB280</text><text x="-153.4" y="845">11051-00011</text><g class="s"><text x="-159" y="363.5">1</text><text x="-159" y="371">2</text></g></g>
</g>

<!-- bottom-left ports -->
<circle cx="185" cy="1386" r="2.5"/><circle cx="229" cy="1386" r="2.5"/>
<path d="M185,1388.5V1403M229,1388.5V1403M207.7,1386H213.3M249.3,1381.7V1396M268.3,1389V1396M249.3,1381.7H343.3M268.3,1389H346"/>
<path d="M207.7,1386V1403M249.3,1396V1403M268.3,1396V1403" stroke="#a8a8a8"/>
<path d="M213.3,1380V1392" stroke-width="2.4"/>
<path d="M182,1403L185,1406L188,1403M182,1406.5L185,1409.5L188,1406.5M204.7,1403L207.7,1406L210.7,1403M204.7,1406.5L207.7,1409.5L210.7,1406.5M226,1403L229,1406L232,1403M226,1406.5L229,1409.5L232,1406.5M246.3,1403L249.3,1406L252.3,1403M246.3,1406.5L249.3,1409.5L252.3,1406.5M265.3,1403L268.3,1406L271.3,1403M265.3,1406.5L268.3,1409.5L271.3,1406.5" stroke-width="0.9"/>
<text transform="scale(-1,1)" x="-266" y="1471" textLength="78" lengthAdjust="spacingAndGlyphs" style="letter-spacing:0">TO MAIN SCHEMATIC</text>

<!-- rotated global texts -->
<g transform="rotate(-90)">
<text x="-1381" y="187.5">+15U</text><text x="-1431" y="187.5">+15U</text>
<text x="-1427" y="210.5">GND</text>
<text x="-1381" y="231.5">-15U</text><text x="-1431" y="231.5">-15U</text>
<text x="-1447" y="252">DRVGRP1</text><text x="-1447" y="271">DRVGRP2</text>
<g style="font-size:6px">
<text x="-205" y="63">1</text><text x="-389.5" y="63">2</text><text x="-573.8" y="63">3</text><text x="-758" y="63">4</text><text x="-942.3" y="63">5</text><text x="-1126.6" y="63">6</text><text x="-1311" y="63">7</text><text x="-1495.2" y="63">8</text>
<text x="-205" y="1042">1</text><text x="-389.5" y="1042">2</text><text x="-573.8" y="1042">3</text><text x="-758" y="1042">4</text><text x="-942.3" y="1042">5</text><text x="-1126.6" y="1042">6</text><text x="-1311" y="1042">7</text><text x="-1495.2" y="1042">8</text>
<text x="-108.5" y="189">D</text><text x="-108.5" y="431">C</text><text x="-108.5" y="673">B</text><text x="-108.5" y="915">A</text>
<text x="-1594" y="189">D</text><text x="-1594" y="431">C</text><text x="-1594" y="673">B</text><text x="-1594" y="915">A</text>
</g>
<g class="tb">
<text x="-422" y="913" textLength="297" lengthAdjust="spacingAndGlyphs">NOTES: FOR ACTUAL COMPONENT VALUES REFER TO PARTS LIST</text>
<text x="-317" y="954.5" textLength="20" lengthAdjust="spacingAndGlyphs">Rev: 1</text>
<text x="-277" y="954.5" textLength="72" lengthAdjust="spacingAndGlyphs">Date: 03/02/94</text>
<text x="-192" y="954.5" textLength="44" lengthAdjust="spacingAndGlyphs">Eng: E.B.</text>
<text x="-317" y="967" textLength="34" lengthAdjust="spacingAndGlyphs">Project:</text>
<text x="-317" y="977" textLength="190" lengthAdjust="spacingAndGlyphs">ZECK GF230 GRAPHIC EQ FILTERS CHANNEL B</text>
<text x="-315" y="994.5" textLength="108" lengthAdjust="spacingAndGlyphs" style="font-size:5.5px">SUMMIT ENGINEERING NV</text>
<text x="-315" y="999.8" textLength="98" lengthAdjust="spacingAndGlyphs" style="font-size:5.5px">Tongersesteenweg 198</text>
<text x="-315" y="1005" textLength="96" lengthAdjust="spacingAndGlyphs" style="font-size:5.5px">B-3800 Sint-Truiden</text>
<text x="-315" y="1010.5" textLength="106" lengthAdjust="spacingAndGlyphs" style="font-size:5.5px">TEL +32 (0)11 69 31 85</text>
<text x="-192" y="999.5" textLength="67" lengthAdjust="spacingAndGlyphs">Pcb: 13399 00811</text>
<text x="-195" y="1013" textLength="72" lengthAdjust="spacingAndGlyphs">File: EQFIL01.SCH</text>
<text x="-193" y="1028" textLength="68" lengthAdjust="spacingAndGlyphs">Sheet 1 Of 1</text>
<text x="-317" y="1028.5" textLength="108" lengthAdjust="spacingAndGlyphs">Initial date: 12/11/93</text>
</g>
</g>
</g>
</svg>
</body></html>
